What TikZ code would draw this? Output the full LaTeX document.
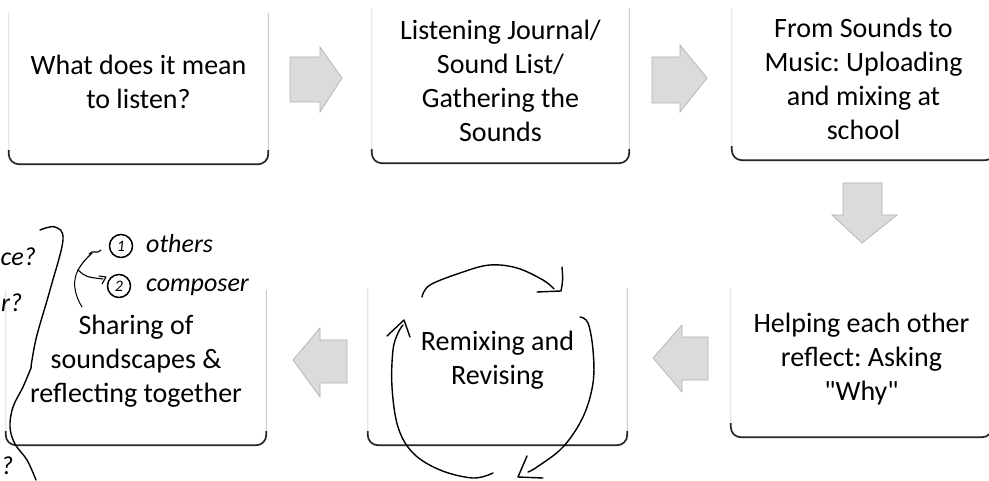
\documentclass[tikz,border=0pt]{standalone}
\usepackage{fontspec}
\setmainfont{Carlito}
\newfontfamily\qfont{Carlito}
\begin{document}
\frenchspacing
\begin{tikzpicture}[x=1pt,y=-1pt,
  boxtext/.style={font=\fontsize{28}{34}\selectfont, align=center, inner sep=0pt, draw=none},
  sidel/.style={draw=gray!55, line width=0.6pt, rounded corners=10pt},
  bottoml/.style={draw=black!85, line width=1.7pt, rounded corners=10pt},
  blk/.style={fill=gray!28, draw=gray!60, line width=0.7pt, line join=miter},
  pen/.style={draw=black, line width=1.4pt, line cap=round, line join=round},
  hand/.style={font=\fontsize{26}{26}\selectfont\itshape, inner sep=0pt},
  circ/.style={circle, draw=black, line width=1.5pt, minimum size=23pt, inner sep=0pt, font=\fontsize{16}{16}\selectfont\itshape}
]
\useasboundingbox (0,0) rectangle (989,481);
\fill[white] (0,0) rectangle (989,481);

% ---------- boxes ----------
\node[boxtext, minimum width=259pt, minimum height=165pt] (b1) at (138.5,81.5) {What does it mean\\to listen?};
\node[boxtext, minimum width=257pt, minimum height=165pt] (b2) at (500.5,80.5) {Listening Journal/\\Sound List/\\Gathering the\\Sounds};
\node[boxtext, minimum width=263pt, minimum height=162pt] (b3) at (863.5,79) {From Sounds to\\Music: Uploading\\and mixing at\\school};
\node[boxtext, minimum width=260pt, minimum height=168pt] (b4) at (136,361) {Sharing of\\soundscapes \&\\reflecting together};
\node[boxtext, minimum width=259pt, minimum height=169pt] (b5) at (497.5,360.5) {Remixing and\\Revising};
\node[boxtext, minimum width=261pt, minimum height=156pt] (b6) at (861.5,359) {Helping each other\\reflect: Asking\\{\qfont"Why"}};

\draw[sidel] ([yshift=-14pt]b1.north west) -- (b1.south west) -- (b1.south east) -- ([yshift=-14pt]b1.north east);
\draw[sidel] ([yshift=-10pt]b2.north west) -- (b2.south west) -- (b2.south east) -- ([yshift=-10pt]b2.north east);
\draw[sidel] ([yshift=-10pt]b3.north west) -- (b3.south west) -- (b3.south east) -- ([yshift=-10pt]b3.north east);
\draw[sidel] ([yshift=-13pt]b4.north west) -- (b4.south west) -- (b4.south east) -- ([yshift=-13pt]b4.north east);
\draw[sidel] ([yshift=-12pt]b5.north west) -- (b5.south west) -- (b5.south east) -- ([yshift=-12pt]b5.north east);
\draw[sidel] ([yshift=-7pt]b6.north west) -- (b6.south west) -- (b6.south east) -- ([yshift=-7pt]b6.north east);

\foreach \b in {b1,b2,b3,b4,b5,b6}{
  \draw[bottoml] ([yshift=14pt]\b.south west) -- (\b.south west) -- (\b.south east) -- ([yshift=14pt]\b.south east);
}

% ---------- block arrows ----------
\draw[blk] (290,57) -- (320,57) -- (320,47) -- (342,78) -- (320,112) -- (320,102) -- (290,102) -- cycle;
\draw[blk] (652,57) -- (680,57) -- (680,45) -- (707,78) -- (680,112) -- (680,103) -- (652,103) -- cycle;
\draw[blk] (843,183) -- (882,183) -- (882,215) -- (897,215) -- (862,243) -- (832,215) -- (843,215) -- cycle;
\draw[blk] (347,340) -- (320,340) -- (320,328) -- (293,360) -- (320,397) -- (320,383) -- (347,383) -- cycle;
\draw[blk] (708,337) -- (682,337) -- (682,325) -- (653,358) -- (682,392) -- (682,380) -- (708,380) -- cycle;

% ---------- handwritten notes (left) ----------
\node[hand, anchor=base east] (q1) at (36,266) {ce?};
\node[hand, anchor=base west] (q2) at (1,312) {r?};
\node[hand, anchor=base west] (q3) at (1,474) {?};
\draw[pen] plot[smooth, tension=0.6] coordinates {(40,230) (55,227) (63,240) (50,290) (37,335) (32,360) (31,368)};
\draw[pen] plot[smooth, tension=0.6] coordinates {(31,368) (23,387) (13,407) (10,427) (15,444) (27,460) (36,480)};

\node[circ] (c1) at (121,246) {1};
\node[circ] (c2) at (119,286) {2};
\node[hand, anchor=base west] (oth) at (146,253) {others};
\node[hand, anchor=base west] (cmp) at (146,292) {composer};

\coordinate (st) at (82,307);
\coordinate (fk) at (78,270);
\draw[pen, line width=1pt] (st) .. controls (73,292) and (73,280) .. (fk);
\draw[pen, line width=1.1pt] (fk) .. controls (83,262) .. (92,253);
\draw[pen, line width=1.1pt] (89,254) .. controls (93,249) and (96,255) .. (101,250);
\draw[pen, line width=1.1pt] (fk) .. controls (86,277) .. (103,279);
\draw[pen, line width=1.1pt] (99,276) -- (106,277) -- (102,284);

% ---------- cycle arrows around Remixing ----------
\draw[pen] plot[smooth, tension=0.6] coordinates {(422,297) (430,285) (463,272) (490,265) (517,268) (543,280) (554,289)};
\draw[pen] (562,267) .. controls (563,280) .. (561,291) -- (537,292);
\draw[pen] plot[smooth, tension=0.6] coordinates {(580,317) (588,323) (593,350) (593,383) (583,417) (563,447) (537,467) (528,472)};
\draw[pen] (527,456) -- (518,477) -- (543,478);
\draw[pen] plot[smooth, tension=0.6] coordinates {(493,473) (473,478) (440,470) (413,453) (398,427) (392,387) (393,350) (398,333) (403,325)};
\draw[pen] (387,336) -- (404,320) -- (410,337);
\end{tikzpicture}
\end{document}
